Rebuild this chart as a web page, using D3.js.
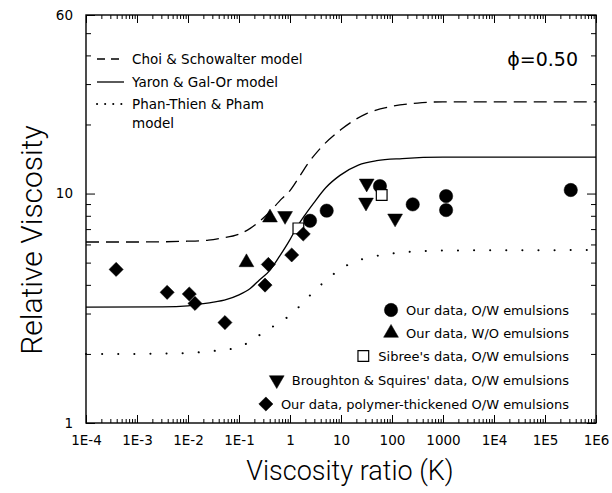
<!DOCTYPE html>
<html><head><meta charset="utf-8">
<script src="https://cdn.jsdelivr.net/npm/d3@7/dist/d3.min.js"></script>
<style>
body{margin:0;background:#fff;}
svg text{fill:#000;}
</style></head>
<body><svg id="c" width="612" height="493"></svg>
<script>
// ---- data ----
const xTickValues = [1e-4,1e-3,1e-2,1e-1,1,10,100,1000,1e4,1e5,1e6];
const xTickLabels = ["1E-4","1E-3","1E-2","1E-1","1","10","100","1000","1E4","1E5","1E6"];
const yTickValues = [1,10,60];
const yTickLabels = ["1","10","60"];

// model curves: [log10 K, relative viscosity]
const choiCurve = [[-4,6.15],[-3,6.15],[-2,6.2],[-1.6,6.27],[-1.37,6.38],[-1.0,6.65],[-0.78,7.05],[-0.46,8.06],[-0.16,9.5],[0,10.3],[0.2,12.0],[0.33,13.3],[0.6,15.8],[1.0,19],[1.5,22.3],[2.0,24.0],[2.5,24.8],[3,25.1],[6,25.1]];
const yaronCurve = [[-4,3.2],[-2.5,3.21],[-2,3.24],[-1.86,3.28],[-1.5,3.36],[-1.24,3.46],[-1.0,3.62],[-0.78,3.86],[-0.6,4.2],[-0.39,4.64],[-0.2,5.35],[0,6.3],[0.13,7.1],[0.3,8.1],[0.46,9.06],[0.7,10.6],[0.98,12.0],[1.34,13.3],[1.7,13.9],[2.2,14.2],[3,14.4],[6,14.4]];
const phanCurve = [[-4,2.0],[-3,2.0],[-2,2.02],[-1.5,2.06],[-1,2.14],[-0.85,2.22],[-0.5,2.5],[0,2.95],[0.5,3.8],[0.75,4.27],[1.0,4.7],[1.27,5.05],[1.63,5.31],[2,5.48],[2.5,5.6],[3,5.65],[6,5.67]];

// data points: [K, relative viscosity]
const ourOW = [[2.47,7.61],[5.24,8.42],[58,10.78],[255,8.97],[1150,9.75],[1150,8.47],[3.2e5,10.36]];
const ourWO = [[0.14,5.01],[0.405,7.85]];
const sibree = [[1.46,7.05],[62.8,9.85]];
const broughton = [[0.80,8.0],[31.9,11.08],[30.9,9.15],[115,7.8]];
const polymer = [[3.9e-4,4.67],[3.9e-3,3.71],[0.0106,3.65],[0.0137,3.32],[0.053,2.74],[0.324,3.99],[0.376,4.91],[1.08,5.40],[1.82,6.66]];

const modelLegend = ["Choi & Schowalter model","Yaron & Gal-Or model","Phan-Thien & Pham","model"];
const dataLegend = ["Our data, O/W emulsions","Our data, W/O emulsions","Sibree's data, O/W emulsions","Broughton & Squires' data, O/W emulsions","Our data, polymer-thickened O/W emulsions"];
const phiLabel = "\u03D5=0.50";
const xTitle = "Viscosity ratio (K)";
const yTitle = "Relative Viscosity";

// ---- layout ----
const L=86, R=596, T=15, B=423;
const svg = d3.select("#c");
const x = d3.scaleLog().domain([1e-4,1e6]).range([L,R]);
const y = d3.scaleLog().domain([1,60]).range([B,T]);

const xMinor=[]; for(let e=-4;e<6;e++) for(let m=2;m<=9;m++) xMinor.push(m*Math.pow(10,e));
const yMinor=[2,3,4,5,6,7,8,9,20,30,40,50];

const font="DejaVu Sans, sans-serif";
function styleAxis(g){ g.select(".domain").remove(); g.selectAll("line").attr("stroke","#000").attr("stroke-width",1); g.selectAll("text").attr("font-family",font).attr("font-size",13.5).attr("fill","#000"); }

svg.append("g").attr("transform",`translate(0,${B})`).call(d3.axisBottom(x).tickValues(xMinor).tickSize(-4).tickFormat("")).call(styleAxis);
svg.append("g").attr("transform",`translate(0,${B})`).call(d3.axisBottom(x).tickValues(xTickValues).tickSize(-8).tickPadding(12).tickFormat((d,i)=>xTickLabels[i])).call(styleAxis);
svg.append("g").attr("transform",`translate(0,${T})`).call(d3.axisTop(x).tickValues(xMinor).tickSize(-4).tickFormat("")).call(styleAxis);
svg.append("g").attr("transform",`translate(0,${T})`).call(d3.axisTop(x).tickValues(xTickValues).tickSize(-8).tickFormat("")).call(styleAxis);
svg.append("g").attr("transform",`translate(${L},0)`).call(d3.axisLeft(y).tickValues(yMinor).tickSize(-5).tickFormat("")).call(styleAxis);
svg.append("g").attr("transform",`translate(${L},0)`).call(d3.axisLeft(y).tickValues(yTickValues).tickSize(-9).tickPadding(13).tickFormat((d,i)=>yTickLabels[i])).call(styleAxis);
svg.append("g").attr("transform",`translate(${R},0)`).call(d3.axisRight(y).tickValues(yMinor).tickSize(-5).tickFormat("")).call(styleAxis);
svg.append("g").attr("transform",`translate(${R},0)`).call(d3.axisRight(y).tickValues(yTickValues).tickSize(-9).tickFormat("")).call(styleAxis);

svg.append("rect").attr("x",L).attr("y",T).attr("width",R-L).attr("height",B-T).attr("fill","none").attr("stroke","#000").attr("stroke-width",1.4);

// curves
const line = d3.line().x(d=>x(Math.pow(10,d[0]))).y(d=>y(d[1])).curve(d3.curveMonotoneX);
const plot = svg.append("g");
plot.append("path").datum(choiCurve).attr("d",line).attr("fill","none").attr("stroke","#000").attr("stroke-width",1.3).attr("stroke-dasharray","13,7");
plot.append("path").datum(yaronCurve).attr("d",line).attr("fill","none").attr("stroke","#000").attr("stroke-width",1.3);
plot.append("path").datum(phanCurve).attr("d",line).attr("fill","none").attr("stroke","#000").attr("stroke-width",2).attr("stroke-linecap","round").attr("stroke-dasharray","0.1,16");

// markers
const sym = {
  circle: d3.symbol().type(d3.symbolCircle).size(140),
  tri: d3.symbol().type(d3.symbolTriangle).size(95),
  square: d3.symbol().type(d3.symbolSquare).size(115),
  diamond: d3.symbol().type(d3.symbolSquare).size(100)
};
function marks(data, kind, rot, open){
  plot.selectAll(null).data(data).enter().append("path")
    .attr("d",sym[kind]())
    .attr("transform",d=>`translate(${x(d[0])},${y(d[1])}) rotate(${rot})`)
    .attr("fill",open?"#fff":"#000").attr("stroke","#000").attr("stroke-width",open?1.2:0.5);
}
marks(ourOW,"circle",0,false);
marks(ourWO,"tri",0,false);
marks(sibree,"square",0,true);
marks(broughton,"tri",180,false);
marks(polymer,"diamond",45,false);

// model legend (top-left)
const lg = svg.append("g").attr("font-family",font).attr("font-size",13.5);
const lrows=[59,82,104,123];
[0,1,2].forEach(i=>{
  const p=lg.append("line").attr("x1",97).attr("x2",124).attr("y1",lrows[i]).attr("y2",lrows[i]).attr("stroke","#000").attr("stroke-width",i==2?2:1.3);
  if(i==0) p.attr("stroke-dasharray","8,6");
  if(i==2) p.attr("stroke-dasharray","0.1,8").attr("stroke-linecap","round");
});
modelLegend.forEach((t,i)=>lg.append("text").attr("x",132).attr("y",lrows[i]).attr("dy","0.35em").text(t));

svg.append("text").attr("x",578).attr("y",59).attr("dy","0.35em").attr("text-anchor","end").attr("font-family",font).attr("font-size",19).text(phiLabel);

// data legend (bottom-right)
const drows=[310,333,356,380,404];
const dkinds=[["circle",0,false],["tri",0,false],["square",0,true],["tri",180,false],["diamond",45,false]];
const dg = svg.append("g").attr("font-family",font).attr("font-size",13);
dataLegend.forEach((t,i)=>{
  const tx = dg.append("text").attr("x",569).attr("y",drows[i]).attr("dy","0.35em").attr("text-anchor","end").text(t);
  const w = tx.node().getComputedTextLength();
  const mx = 569 - w - 15;
  dg.append("path").attr("d",sym[dkinds[i][0]]()).attr("transform",`translate(${mx},${drows[i]}) rotate(${dkinds[i][1]})`)
    .attr("fill",dkinds[i][2]?"#fff":"#000").attr("stroke","#000").attr("stroke-width",dkinds[i][2]?1.2:0.5);
});

// titles
svg.append("text").attr("x",350).attr("y",480).attr("text-anchor","middle").attr("font-family","Roboto, sans-serif").attr("font-weight",300).attr("font-size",27).text(xTitle);
svg.append("text").attr("transform","translate(42,240) rotate(-90)").attr("text-anchor","middle").attr("font-family","Roboto, sans-serif").attr("font-weight",300).attr("font-size",30).text(yTitle);
</script></body></html>
